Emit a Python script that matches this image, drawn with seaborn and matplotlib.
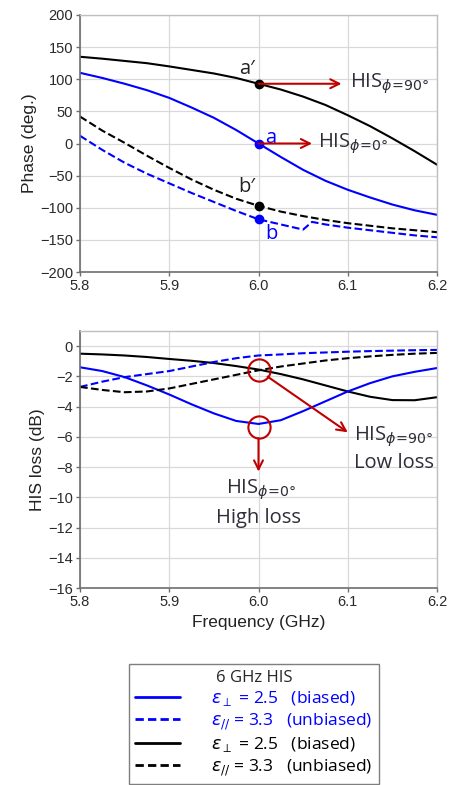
import matplotlib
matplotlib.use('Agg')
import matplotlib.pyplot as plt
import seaborn as sns
from matplotlib.lines import Line2D

# ---- data ----
freq = [5.8, 5.825, 5.85, 5.875, 5.9, 5.925, 5.95, 5.975, 6.0,
        6.025, 6.05, 6.075, 6.1, 6.125, 6.15, 6.175, 6.2]

# phase (deg.)
phase_perp_black = [135, 132, 128.5, 125, 120, 114.5, 109, 102, 93,
                    84, 73, 60, 44, 27, 8, -12, -33]
phase_perp_blue = [110, 102, 93, 83, 71, 56, 40, 21, 0,
                   -21, -41, -58, -72, -84, -95, -104, -111]
phase_par_black = [42, 20, 1, -19, -38, -56, -72, -86, -97,
                   -106, -113, -119, -124, -128, -132, -135, -138]
freq_par_blue = [5.8, 5.825, 5.85, 5.875, 5.9, 5.925, 5.95, 5.975, 6.0,
                 6.025, 6.05, 6.06, 6.075, 6.1, 6.125, 6.15, 6.175, 6.2]
phase_par_blue = [12, -10, -30, -47, -62, -77, -91, -105, -118,
                  -126, -134, -122, -126, -131, -135, -139, -143, -146]

# HIS loss (dB)
loss_perp_black = [-0.5, -0.55, -0.62, -0.72, -0.85, -0.97, -1.12, -1.32, -1.55,
                   -1.85, -2.2, -2.6, -3.0, -3.35, -3.57, -3.58, -3.38]
loss_perp_blue = [-1.4, -1.65, -2.05, -2.6, -3.2, -3.85, -4.45, -4.95, -5.15,
                  -4.9, -4.3, -3.65, -3.0, -2.45, -2.0, -1.7, -1.45]
loss_par_blue = [-2.7, -2.35, -2.05, -1.85, -1.65, -1.35, -1.05, -0.8, -0.62,
                 -0.55, -0.47, -0.42, -0.37, -0.33, -0.3, -0.27, -0.25]
loss_par_black = [-2.7, -2.9, -3.05, -3.0, -2.8, -2.5, -2.2, -1.9, -1.6,
                  -1.35, -1.15, -0.95, -0.8, -0.68, -0.58, -0.5, -0.45]

# marked points at 6.0 GHz
mark_f = 6.0
mark_black = [93, -97]
mark_blue = [0, -118]
circle_loss = [-1.6, -5.35]

x_ticks = [5.8, 5.9, 6.0, 6.1, 6.2]
phase_ticks = list(range(-200, 201, 50))
loss_ticks = list(range(-16, 1, 2))

legend_title = '6 GHz HIS'
legend_labels = [r'$\varepsilon_{\perp}$ = 2.5   (biased)',
                 r'$\varepsilon_{//}$ = 3.3   (unbiased)',
                 r'$\varepsilon_{\perp}$ = 2.5   (biased)',
                 r'$\varepsilon_{//}$ = 3.3   (unbiased)']

BLUE = '#0000ff'
BLACK = '#000000'
RED = '#c00000'
TXT = '#2e2e38'

sns.set_theme(style='whitegrid')
plt.rcParams['font.family'] = ['Liberation Sans', 'DejaVu Sans']

fig = plt.figure(figsize=(4.51, 7.85), dpi=100)
ax1 = fig.add_axes([80 / 451, 1 - 272 / 785, 357 / 451, 257 / 785])
ax2 = fig.add_axes([80 / 451, 1 - 588 / 785, 357 / 451, 257 / 785])

dash = (4, 2)
lw = 1.5


def style_axes(ax, yticks, ylim):
    ax.set_facecolor('white')
    ax.set_xlim(5.8, 6.2)
    ax.set_ylim(*ylim)
    ax.set_xticks(x_ticks)
    ax.set_xticklabels([f'{t:.1f}' for t in x_ticks])
    ax.set_yticks(yticks)
    ax.grid(True, color='#d9d9d9', linewidth=0.9)
    for s in ['top', 'right']:
        ax.spines[s].set_color('#bfbfbf')
        ax.spines[s].set_linewidth(1.0)
    for s in ['left', 'bottom']:
        ax.spines[s].set_color('#6e6e6e')
        ax.spines[s].set_linewidth(1.2)
    ax.tick_params(axis='both', which='major', direction='out', length=3,
                   width=1, color='#6e6e6e', labelsize=10.5,
                   labelcolor='#2a2a2a', pad=2, left=True, bottom=True)


# ---- top: phase ----
sns.lineplot(x=freq, y=phase_perp_black, ax=ax1, color=BLACK, linewidth=lw)
sns.lineplot(x=freq, y=phase_perp_blue, ax=ax1, color=BLUE, linewidth=lw)
sns.lineplot(x=freq, y=phase_par_black, ax=ax1, color=BLACK, linewidth=lw,
             linestyle='--', dashes=dash)
sns.lineplot(x=freq_par_blue, y=phase_par_blue, ax=ax1, color=BLUE, linewidth=lw,
             linestyle='--', dashes=dash, sort=False)
ax1.plot([mark_f] * 2, mark_black, 'o', color=BLACK, markersize=6)
ax1.plot([mark_f] * 2, mark_blue, 'o', color=BLUE, markersize=6)
style_axes(ax1, phase_ticks, (-200, 200))
ax1.set_ylabel('Phase (deg.)', fontsize=12.5, color='#222222', labelpad=2)

afont = dict(family='Open Sans', fontsize=14.5)
ax1.text(5.987, 116, 'a\u2032', color='#222222', ha='center', va='center', **afont)
ax1.text(6.014, 9, 'a', color=BLUE, ha='center', va='center', **afont)
ax1.text(5.987, -67, 'b\u2032', color='#222222', ha='center', va='center', **afont)
ax1.text(6.015, -141, 'b', color=BLUE, ha='center', va='center', **afont)

arrow = dict(arrowstyle='->', color=RED, lw=1.5, mutation_scale=16,
             shrinkA=0, shrinkB=0)
ax1.annotate('', xy=(6.093, mark_black[0]), xytext=(mark_f, mark_black[0]),
             arrowprops=arrow)
ax1.annotate('', xy=(6.06, mark_blue[0]), xytext=(mark_f, mark_blue[0]),
             arrowprops=arrow)
his90 = r'HIS$_{\phi\!=\!90°}$'
his0 = r'HIS$_{\phi\!=\!0°}$'
ax1.text(6.102, 93, his90, color=TXT, ha='left', va='center', **afont)
ax1.text(6.067, 0, his0, color=TXT, ha='left', va='center', **afont)

# ---- bottom: loss ----
sns.lineplot(x=freq, y=loss_perp_black, ax=ax2, color=BLACK, linewidth=lw)
sns.lineplot(x=freq, y=loss_perp_blue, ax=ax2, color=BLUE, linewidth=lw)
sns.lineplot(x=freq, y=loss_par_blue, ax=ax2, color=BLUE, linewidth=lw,
             linestyle='--', dashes=dash)
sns.lineplot(x=freq, y=loss_par_black, ax=ax2, color=BLACK, linewidth=lw,
             linestyle='--', dashes=dash)
style_axes(ax2, loss_ticks, (-16, 1))
ax2.set_ylabel('HIS loss (dB)', fontsize=12.5, color='#222222', labelpad=2)
ax2.set_xlabel('Frequency (GHz)', fontsize=12.5, color='#222222', labelpad=4)

ax2.plot([mark_f] * 2, circle_loss, 'o', markersize=16, markerfacecolor='none',
         markeredgecolor=RED, markeredgewidth=1.5)
arrow2 = dict(arrowstyle='->', color=RED, lw=1.5, mutation_scale=16,
              shrinkA=8, shrinkB=0)
ax2.annotate('', xy=(6.1, -5.7), xytext=(mark_f, circle_loss[0]), arrowprops=arrow2)
ax2.annotate('', xy=(6.0, -8.3), xytext=(mark_f, circle_loss[1]), arrowprops=arrow2)
ax2.text(6.152, -6.0, his90, color=TXT, ha='center', va='center', **afont)
ax2.text(6.152, -7.75, 'Low loss', color=TXT, ha='center', va='center', **afont)
ax2.text(6.003, -9.5, his0, color=TXT, ha='center', va='center', **afont)
ax2.text(6.0, -11.4, 'High loss', color=TXT, ha='center', va='center', **afont)

# ---- legend ----
handles = [Line2D([], [], color=BLUE, lw=2),
           Line2D([], [], color=BLUE, lw=2, linestyle='--', dashes=(3, 1.5)),
           Line2D([], [], color=BLACK, lw=2),
           Line2D([], [], color=BLACK, lw=2, linestyle='--', dashes=(3, 1.5))]
leg = fig.legend(handles, legend_labels, title=legend_title,
                 loc='upper left', bbox_to_anchor=(129 / 451, 1 - 664 / 785),
                 borderaxespad=0, frameon=True, fancybox=False, framealpha=1,
                 edgecolor='#7f7f7f', handlelength=2.6, handletextpad=1.8,
                 labelspacing=0.18, borderpad=0.35,
                 labelcolor=[BLUE, BLUE, BLACK, BLACK],
                 prop={'family': 'Open Sans', 'size': 12.5},
                 title_fontproperties={'family': 'Open Sans', 'size': 12})
leg.get_frame().set_linewidth(1.0)

fig.savefig('out.png', dpi=100)
